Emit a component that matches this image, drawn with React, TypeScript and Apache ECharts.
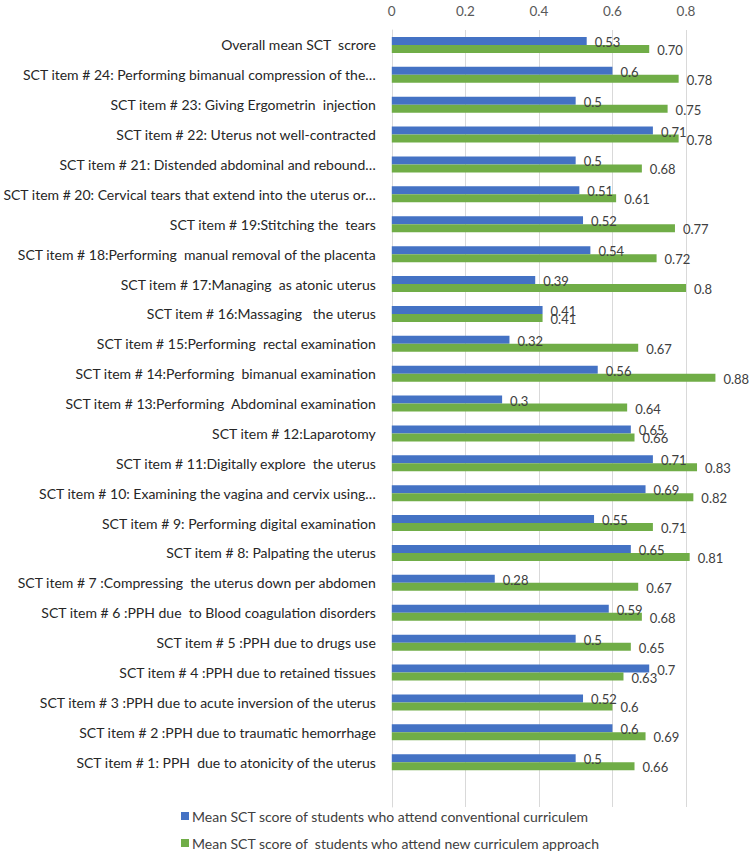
import React, { useEffect, useRef } from "react";
import * as echarts from "echarts";

// Categories listed top to bottom (last entry is the empty band at the bottom of the plot)
const categories: string[] = [
  "Overall mean SCT  scrore",
  "SCT item # 24: Performing bimanual compression of the…",
  "SCT item # 23: Giving Ergometrin  injection",
  "SCT item # 22: Uterus not well-contracted",
  "SCT item # 21: Distended abdominal and rebound…",
  "SCT item # 20: Cervical tears that extend into the uterus or…",
  "SCT item # 19:Stitching the  tears",
  "SCT item # 18:Performing  manual removal of the placenta",
  "SCT item # 17:Managing  as atonic uterus",
  "SCT item # 16:Massaging   the uterus",
  "SCT item # 15:Performing  rectal examination",
  "SCT item # 14:Performing  bimanual examination",
  "SCT item # 13:Performing  Abdominal examination",
  "SCT item # 12:Laparotomy",
  "SCT item # 11:Digitally explore  the uterus",
  "SCT item # 10: Examining the vagina and cervix using…",
  "SCT item # 9: Performing digital examination",
  "SCT item # 8: Palpating the uterus",
  "SCT item # 7 :Compressing  the uterus down per abdomen",
  "SCT item # 6 :PPH due  to Blood coagulation disorders",
  "SCT item # 5 :PPH due to drugs use",
  "SCT item # 4 :PPH due to retained tissues",
  "SCT item # 3 :PPH due to acute inversion of the uterus",
  "SCT item # 2 :PPH due to traumatic hemorrhage",
  "SCT item # 1: PPH  due to atonicity of the uterus",
  "",
];

const conventional: (number | null)[] = [
  0.53, 0.6, 0.5, 0.71, 0.5, 0.51, 0.52, 0.54, 0.39, 0.41, 0.32, 0.56, 0.3,
  0.65, 0.71, 0.69, 0.55, 0.65, 0.28, 0.59, 0.5, 0.7, 0.52, 0.6, 0.5, null,
];

const newApproach: (number | null)[] = [
  0.7, 0.78, 0.75, 0.78, 0.68, 0.61, 0.77, 0.72, 0.8, 0.41, 0.67, 0.88, 0.64,
  0.66, 0.83, 0.82, 0.71, 0.81, 0.67, 0.68, 0.65, 0.63, 0.6, 0.69, 0.66, null,
];

const conventionalLabels: string[] = [
  "0.53", "0.6", "0.5", "0.71", "0.5", "0.51", "0.52", "0.54", "0.39", "0.41",
  "0.32", "0.56", "0.3", "0.65", "0.71", "0.69", "0.55", "0.65", "0.28", "0.59",
  "0.5", "0.7", "0.52", "0.6", "0.5", "",
];

const newApproachLabels: string[] = [
  "0.70", "0.78", "0.75", "0.78", "0.68", "0.61", "0.77", "0.72", "0.8", "0.41",
  "0.67", "0.88", "0.64", "0.66", "0.83", "0.82", "0.71", "0.81", "0.67", "0.68",
  "0.65", "0.63", "0.6", "0.69", "0.66", "",
];

const seriesNames: string[] = [
  "Mean SCT score of students who attend conventional curriculem",
  "Mean SCT score of  students who attend new curriculem approach",
];

const FONT = "Lato";

export default function App() {
  const ref = useRef<HTMLDivElement>(null);
  useEffect(() => {
    if (!ref.current) return;
    const chart = echarts.init(ref.current, undefined, { renderer: "svg" });
    chart.setOption({
      animation: false,
      backgroundColor: "#ffffff",
      textStyle: { fontFamily: FONT },
      grid: { left: 384, top: 30, right: 67, height: 777 },
      legend: {
        orient: "vertical",
        left: 176,
        top: 804,
        itemWidth: 8,
        itemHeight: 8,
        itemGap: 13,
        icon: "rect",
        textStyle: { fontFamily: FONT, fontSize: 14, color: "#404040", padding: [0, 0, 0, -2] },
        data: seriesNames,
      },
      xAxis: {
        type: "value",
        position: "top",
        min: 0,
        max: 0.8,
        interval: 0.2,
        axisLine: { show: false },
        axisTick: { show: false },
        axisLabel: { color: "#595959", fontSize: 13.5, fontFamily: FONT, margin: 12 },
        splitLine: { show: true, lineStyle: { color: "#d9d9d9", width: 1 } },
      },
      yAxis: {
        type: "category",
        inverse: true,
        data: categories,
        axisLine: { show: true, lineStyle: { color: "#d9d9d9" } },
        axisTick: { show: false },
        axisLabel: { color: "#262626", fontSize: 14, fontFamily: FONT, margin: 16 },
      },
      series: [
        {
          name: seriesNames[0],
          type: "bar",
          data: conventional,
          barWidth: 8,
          barGap: "0%",
          clip: false,
          itemStyle: { color: "#4472c4" },
          label: {
            show: true,
            position: "right",
            distance: 8,
            color: "#404040",
            fontSize: 13,
            fontFamily: FONT,
            offset: [0, 1],
            formatter: (p: any) => conventionalLabels[p.dataIndex],
          },
        },
        {
          name: seriesNames[1],
          type: "bar",
          data: newApproach,
          barWidth: 8,
          barGap: "0%",
          clip: false,
          itemStyle: { color: "#70ad47" },
          label: {
            show: true,
            position: "right",
            distance: 8,
            color: "#404040",
            fontSize: 13,
            fontFamily: FONT,
            offset: [0, 1],
            formatter: (p: any) => newApproachLabels[p.dataIndex],
          },
        },
      ],
    });
    return () => chart.dispose();
  }, []);
  return (
    <div
      ref={ref}
      style={{ position: "absolute", left: 0, top: 0, width: 753, height: 860 }}
    />
  );
}
